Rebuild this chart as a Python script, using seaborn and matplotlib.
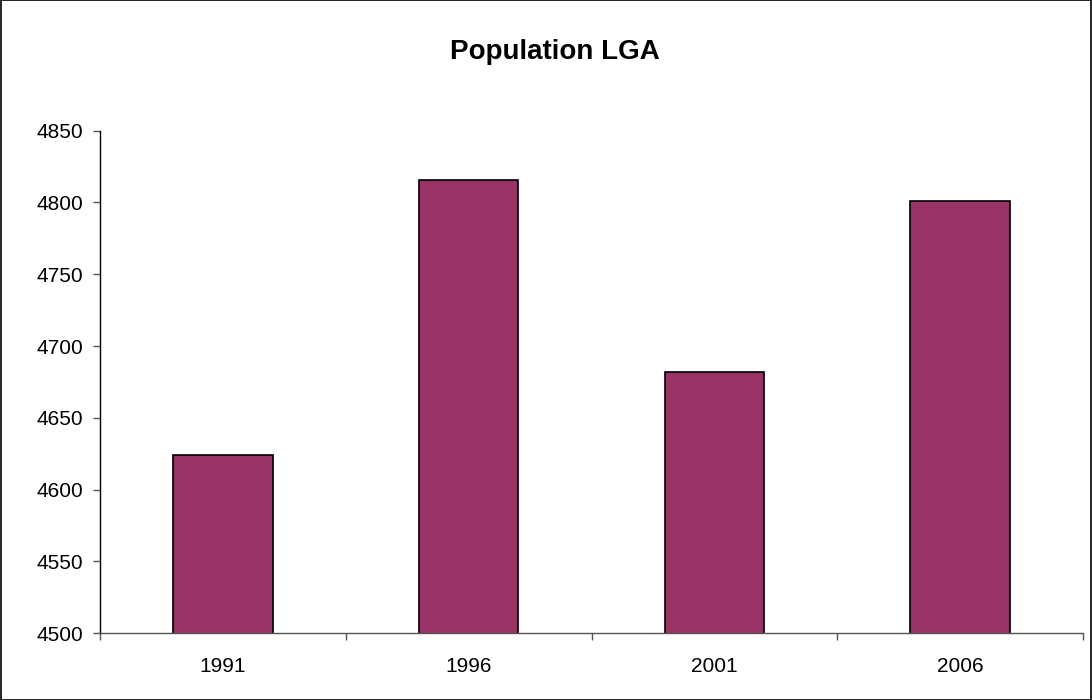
import matplotlib
matplotlib.use("Agg")
import matplotlib.pyplot as plt
from matplotlib.patches import Rectangle
import seaborn as sns
import pandas as pd

years = ["1991", "1996", "2001", "2006"]
population = [4624, 4816, 4682, 4801]
y_ticks = [4500, 4550, 4600, 4650, 4700, 4750, 4800, 4850]

sns.set_theme(style="white")
plt.rcParams["font.family"] = ["Liberation Sans", "DejaVu Sans"]

df = pd.DataFrame({"year": years, "population": population})

fig = plt.figure(figsize=(10.92, 7.0), dpi=100)
ax = fig.add_axes([0.0916, 0.0953, 0.9002, 0.718])

sns.barplot(data=df, x="year", y="population", color="#993366",
            saturation=1, width=0.405, edgecolor="black", linewidth=1.2, ax=ax)

ax.set_ylim(4500, 4850)
ax.set_xlim(-0.5, 3.5)
ax.set_yticks(y_ticks)
ax.set_yticklabels([str(v) for v in y_ticks])
ax.set_xlabel("")
ax.set_ylabel("")

# category labels centered, tick marks on category boundaries
ax.tick_params(axis="x", which="major", length=0, labelsize=15, pad=17, labelcolor="black")
ax.set_xticks([-0.5, 0.5, 1.5, 2.5, 3.5], minor=True)
ax.tick_params(axis="x", which="minor", bottom=True, length=5, width=1, color="#555555", direction="out")
ax.tick_params(axis="y", left=True, length=5, width=1, color="#555555", direction="out",
               pad=7, labelsize=15, labelcolor="black")

for s in ["top", "right"]:
    ax.spines[s].set_visible(False)
ax.spines["left"].set_color("black")
ax.spines["left"].set_linewidth(1)
ax.spines["bottom"].set_color("#555555")
ax.spines["bottom"].set_linewidth(1)

fig.text(0.508, 0.9157, "Population LGA", ha="center", va="baseline",
         fontsize=20, fontweight="bold", color="black")

fig.patches.append(Rectangle((0.0005, 0.0007), 0.999, 0.9986, transform=fig.transFigure,
                             fill=False, edgecolor="black", linewidth=1.2))

fig.savefig("out.png", dpi=100, facecolor="white")
